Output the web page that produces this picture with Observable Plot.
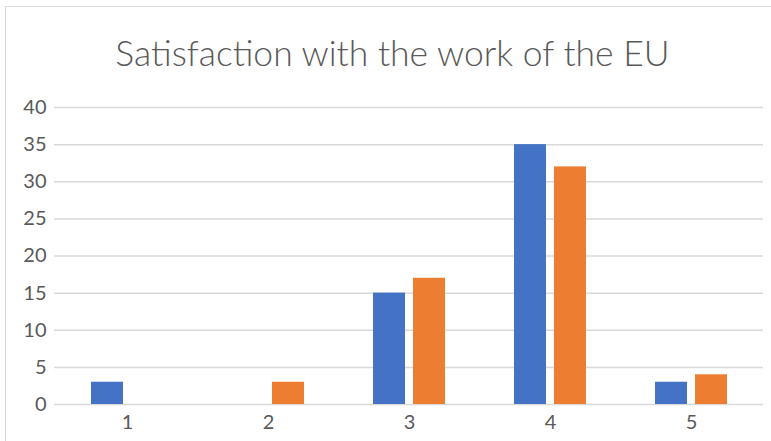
<!DOCTYPE html>
<html><head><meta charset="utf-8">
<script src="https://cdn.jsdelivr.net/npm/d3@7"></script>
<script src="https://cdn.jsdelivr.net/npm/@observablehq/plot@0.6"></script>
<style>
body{margin:0;background:#fff;overflow:hidden;width:771px;height:441px;position:relative;font-family:Lato,sans-serif}
#frame{position:absolute;left:5px;top:6px;width:820px;height:520px;border:1.5px solid #d9d9d9;}
#title{position:absolute;left:0;width:785px;top:31px;text-align:center;font-size:35.5px;line-height:44px;color:#595959;font-family:Lato,sans-serif;font-weight:300}
#chart{position:absolute;left:0;top:90px}
</style></head><body>
<div id="frame"></div>
<div id="title">Satisfaction with the work of the EU</div>
<div id="chart"></div>
<script>
const categories = ["1","2","3","4","5"];
const seriesNames = ["Series1","Series2"];
const series1 = [3, 0, 15, 35, 3];
const series2 = [0, 3, 17, 32, 4];
const yTicks = [0, 5, 10, 15, 20, 25, 30, 35, 40];
const colors = ["#4472C4", "#ED7D31"];

const data1 = categories.map((c, i) => ({category: c, series: seriesNames[0], value: series1[i]}));
const data2 = categories.map((c, i) => ({category: c, series: seriesNames[1], value: series2[i]}));

const plot = Plot.plot({
  width: 771, height: 351,
  marginLeft: 54, marginRight: 8, marginTop: 17, marginBottom: 37,
  style: {fontFamily: "Lato, sans-serif", fontSize: "20px", color: "#595959", background: "transparent"},
  x: {domain: categories, paddingInner: 0.7743, paddingOuter: 0.38717, label: null, tickSize: 0, tickPadding: 10},
  y: {domain: [0, 40], ticks: yTicks, label: null, tickSize: 0, tickPadding: 8},
  marks: [
    Plot.ruleY(yTicks, {stroke: "#d9d9d9", strokeWidth: 1.5}),
    Plot.barY(data1, {x: "category", y: "value", fill: colors[0], dx: -20}),
    Plot.barY(data2, {x: "category", y: "value", fill: colors[1], dx: 20})
  ]
});
document.getElementById("chart").appendChild(plot);
</script>
</body></html>
